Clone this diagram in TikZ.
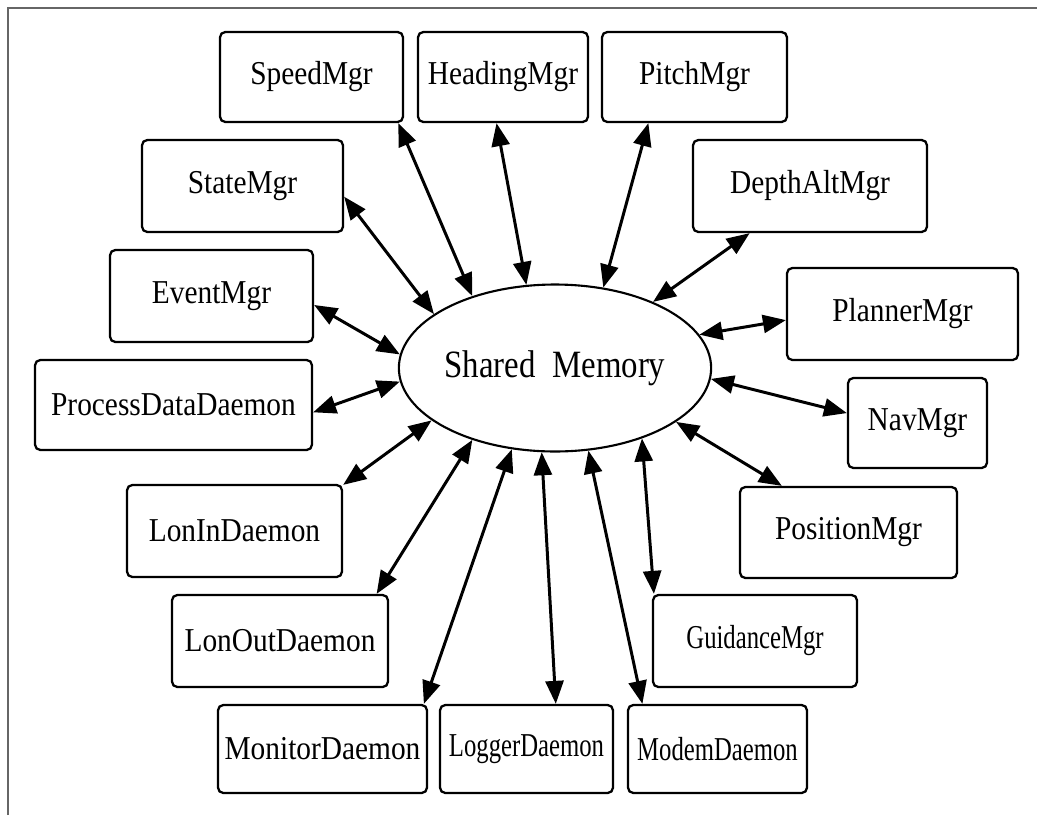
\documentclass[tikz,border=0pt]{standalone}
\usepackage{fontspec}
\setmainfont{Liberation Serif}[FakeStretch=0.88]
\newfontfamily\narrowserif{Liberation Serif}[FakeStretch=0.74]
\newfontfamily\memserif{Liberation Serif}[FakeStretch=0.85]
\usetikzlibrary{shapes.geometric,arrows.meta}

\begin{document}
\begin{tikzpicture}[x=0.02cm, y=-0.02cm,
  mgrbox/.style={draw, line width=1.3pt, rounded corners=3pt, inner sep=0pt,
                 font=\fontsize{19}{22}\selectfont, align=center},
  narrowtext/.style={font=\narrowserif\fontsize{19}{22}\selectfont},
  memnode/.style={draw, ellipse, line width=1.2pt, inner sep=0pt,
                  minimum width=4.88cm, minimum height=3.34cm,
                  font=\memserif\fontsize{22}{25}\selectfont},
  conn/.style={line width=1.7pt,
               {Triangle[length=0.46cm,width=0.36cm]}-{Triangle[length=0.46cm,width=0.36cm]}},
  frameline/.style={draw=black!60, line width=0.7pt}]

\useasboundingbox (0,0) rectangle (1037,815);

% outer frame (top and left edges)
\draw[frameline] (8,815) -- (8,8) -- (1037,8);

% central store
\node[memnode] (mem) at (555,368) {Shared\ \ Memory};

% processes around it
\node[mgrbox, minimum width=3.66cm, minimum height=1.80cm] (speed)    at (311.5,77)  {SpeedMgr};
\node[mgrbox, minimum width=3.40cm, minimum height=1.80cm] (heading)  at (503,77)    {HeadingMgr};
\node[mgrbox, minimum width=3.70cm, minimum height=1.80cm] (pitch)    at (694.5,77)  {PitchMgr};
\node[mgrbox, minimum width=4.68cm, minimum height=1.84cm] (depth)    at (810,186)   {DepthAltMgr};
\node[mgrbox, minimum width=4.02cm, minimum height=1.84cm] (state)    at (242.5,186) {StateMgr};
\node[mgrbox, minimum width=4.06cm, minimum height=1.84cm] (event)    at (211.5,296) {EventMgr};
\node[mgrbox, minimum width=5.54cm, minimum height=1.80cm] (procdata) at (173.5,405) {ProcessDataDaemon};
\node[mgrbox, minimum width=4.30cm, minimum height=1.84cm] (lonin)    at (234.5,531) {LonInDaemon};
\node[mgrbox, minimum width=4.32cm, minimum height=1.84cm] (lonout)   at (280,641)   {LonOutDaemon};
\node[mgrbox, minimum width=4.18cm, minimum height=1.76cm] (monitor)  at (322.5,749) {MonitorDaemon};
\node[mgrbox, narrowtext, minimum width=3.46cm, minimum height=1.76cm] (logger) at (526.5,749) {LoggerDaemon};
\node[mgrbox, narrowtext, minimum width=3.58cm, minimum height=1.76cm] (modem)  at (717.5,749) {ModemDaemon};
\node[mgrbox, narrowtext, minimum width=4.08cm, minimum height=1.84cm] (guidance) at (755,641) {GuidanceMgr};
\node[mgrbox, minimum width=4.34cm, minimum height=1.82cm] (position) at (848.5,532.5) {PositionMgr};
\node[mgrbox, minimum width=2.78cm, minimum height=1.80cm] (nav)      at (917.5,423) {NavMgr};
\node[mgrbox, minimum width=4.62cm, minimum height=1.84cm] (planner)  at (902.5,314) {PlannerMgr};

% two-way links to shared memory
\draw[conn] (speed.-28.3)    -- (mem.139.4);
\draw[conn] (heading.262.6)  -- (mem.109.9);
\draw[conn] (pitch.225.3)    -- (mem.59.5);
\draw[conn] (depth.218.4)    -- (mem.34.8);
\draw[conn] (state.-6.1)     -- (mem.156);
\draw[conn] (event.-5.1)     -- (mem.175.4);
\draw[conn] (procdata.-3.7)  -- (mem.185.5);
\draw[conn] (lonin.23.4)     -- (mem.203.5);
\draw[conn] (lonout.26.3)    -- (mem.221.5);
\draw[conn] (monitor.24.8)   -- (mem.242.1);
\draw[conn] (logger.57.7)    -- (mem.261.9);
\draw[conn] (modem.149.9)    -- (mem.292.4);
\draw[conn] (guidance.155)   -- (mem.321.6);
\draw[conn] (position.145.8) -- (mem.336.9);
\draw[conn] (nav.172.7)      -- (mem.356);
\draw[conn] (planner.183.4)  -- (mem.13.2);

\end{tikzpicture}
\end{document}
